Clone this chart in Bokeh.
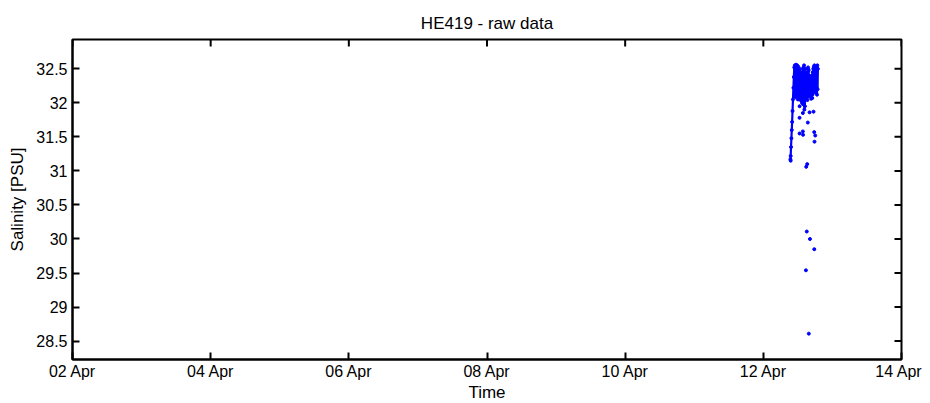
import math
from datetime import datetime, timedelta
from bokeh.plotting import figure
from bokeh.models import Range1d, FixedTicker, DatetimeTickFormatter, ColumnDataSource
from bokeh.embed import file_html
from bokeh.resources import INLINE

# ---- data (hours after 12 Apr 2014 00:00, salinity PSU) ----
ramp_hours = [9.40, 9.50, 9.62, 9.75, 9.88, 10.00, 10.15, 10.30, 10.45, 10.60, 10.75]
ramp_sal = [31.17, 31.22, 31.35, 31.48, 31.60, 31.72, 31.88, 32.05, 32.22, 32.38, 32.52]

band_hours = [10.85, 10.95, 11.05, 11.15, 11.25, 11.35, 11.45, 11.55, 11.65, 11.75,
              11.85, 11.95, 12.05, 12.15, 12.25, 12.35, 12.45, 12.55, 12.65, 12.75,
              12.85, 12.95, 13.05, 13.15, 13.25, 13.35, 13.45, 13.55, 13.65, 13.75,
              13.85, 13.95, 14.05, 14.15, 14.25, 14.35, 14.45, 14.55, 14.65, 14.75,
              14.85, 14.95, 15.05, 15.15, 15.25, 15.35, 15.45, 15.55, 15.65, 15.75,
              15.85, 15.95, 16.05, 16.15, 16.25, 16.35, 16.45, 16.55, 16.65, 16.75,
              16.85, 16.95, 17.05, 17.15, 17.25, 17.35, 17.45, 17.55, 17.65, 17.75,
              17.85, 17.95, 18.05, 18.15, 18.25, 18.35, 18.45, 18.55, 18.65, 18.75,
              18.85, 18.95]
band_sal = [32.10, 32.55, 32.15, 32.50, 32.08, 32.56, 32.20, 32.52, 32.12, 32.55,
            32.18, 32.50, 32.10, 32.53, 32.22, 32.48, 32.05, 32.50, 32.15, 32.42,
            32.10, 32.35, 32.05, 32.38, 32.12, 32.45, 32.00, 32.40, 32.15, 32.50,
            31.98, 32.52, 32.10, 32.55, 31.90, 32.50, 31.95, 32.45, 32.05, 32.40,
            32.15, 32.30, 32.10, 32.42, 32.08, 32.50, 32.12, 32.52, 32.15, 32.48,
            32.10, 32.40, 32.18, 32.35, 32.12, 32.30, 32.15, 32.38, 32.10, 32.32,
            32.18, 32.40, 32.12, 32.45, 32.20, 32.50, 32.15, 32.53, 32.22, 32.55,
            32.18, 32.50, 32.20, 32.45, 32.15, 32.52, 32.22, 32.48, 32.12, 32.55,
            32.20, 32.50]

scatter_hours = [9.50, 14.90, 15.25, 12.58, 13.73, 13.80, 17.68, 18.02, 17.78,
                 12.58, 12.60, 13.73, 15.46, 16.05, 17.44,
                 12.00, 13.20, 14.00, 15.30, 16.60, 17.00,
                 15.10, 16.20, 17.70, 14.80, 15.80]
scatter_sal = [31.15, 31.06, 31.10, 31.55, 31.58, 31.53, 31.57, 31.52, 31.43,
               31.78, 31.95, 31.85, 31.71, 31.86, 31.87,
               32.05, 32.03, 32.08, 32.04, 32.06, 32.07,
               30.11, 30.00, 29.85, 29.54, 28.61]

x_tick_days = [2, 4, 6, 8, 10, 12, 14]
y_ticks = [28.5, 29, 29.5, 30, 30.5, 31, 31.5, 32, 32.5]
y_tick_labels = ["28.5", "29", "29.5", "30", "30.5", "31", "31.5", "32", "32.5"]
y_limits = [28.23, 32.93]

title_text = "HE419 - raw data"
x_label = "Time"
y_label = "Salinity [PSU]"

# ---- build ----
base = datetime(2014, 4, 12)
def to_dt(hs):
    return [base + timedelta(hours=h) for h in hs]

x_start = datetime(2014, 4, x_tick_days[0])
x_end = datetime(2014, 4, x_tick_days[-1])

line_src = ColumnDataSource(dict(t=to_dt(ramp_hours + band_hours), s=ramp_sal + band_sal))
pt_src = ColumnDataSource(dict(t=to_dt(scatter_hours), s=scatter_sal))

FONT = "Liberation Sans"
FS = "16px"
FS_L = "17px"

p = figure(frame_width=829, frame_height=320, x_axis_type="datetime", output_backend="svg",
           toolbar_location=None, title=title_text,
           x_range=Range1d(x_start, x_end),
           y_range=Range1d(*y_limits),
           min_border_left=72, min_border_right=21, min_border_top=39, min_border_bottom=38)

p.line("t", "s", source=line_src, line_color="#0000FF", line_width=2.2)
p.scatter("t", "s", source=line_src, size=3, color="#0000FF")
p.scatter("t", "s", source=pt_src, size=3, color="#0000FF")

x_tick_dt = [datetime(2014, 4, d) for d in x_tick_days]
x_ticks = [d.timestamp() * 1000 for d in x_tick_dt]

# mirrored ticks (MATLAB box) on right and top edges, clipped by the frame
p.scatter(x=[x_end] * len(y_ticks), y=y_ticks, marker="dash", size=14,
          line_color="black", line_width=2)
p.scatter(x=x_tick_dt, y=[y_limits[1]] * len(x_tick_dt), marker="dash", size=14,
          angle=math.pi / 2, line_color="black", line_width=2)

p.xgrid.visible = False
p.ygrid.visible = False
p.outline_line_color = "black"
p.outline_line_width = 2
p.outline_line_alpha = 1

p.title.align = "center"
p.title.text_font = FONT
p.title.text_font_size = FS_L
p.title.text_font_style = "normal"
p.title.text_color = "black"
p.title.standoff = 14

xa = p.xaxis[0]
xa.ticker = FixedTicker(ticks=x_ticks)
xa.formatter = DatetimeTickFormatter(days="%d %b", months="%d %b", hours="%d %b")
xa.axis_label = x_label
ya = p.yaxis[0]
ya.ticker = FixedTicker(ticks=y_ticks)
ya.major_label_overrides = {t: l for t, l in zip(y_ticks, y_tick_labels)}
ya.axis_label = y_label

for ax in (xa, ya):
    ax.major_tick_in = 7
    ax.major_tick_out = 0
    ax.minor_tick_line_color = None
    ax.axis_line_width = 2
    ax.major_tick_line_width = 2
    ax.major_label_text_font = FONT
    ax.major_label_text_font_size = FS
    ax.major_label_text_color = "black"
    ax.axis_label_text_font = FONT
    ax.axis_label_text_font_size = FS_L
    ax.axis_label_text_font_style = "normal"
    ax.axis_label_text_color = "black"
xa.major_label_standoff = 3
xa.axis_label_standoff = 0
ya.major_label_standoff = 5
ya.axis_label_standoff = 6

open("out.html", "w").write(file_html(p, INLINE))
